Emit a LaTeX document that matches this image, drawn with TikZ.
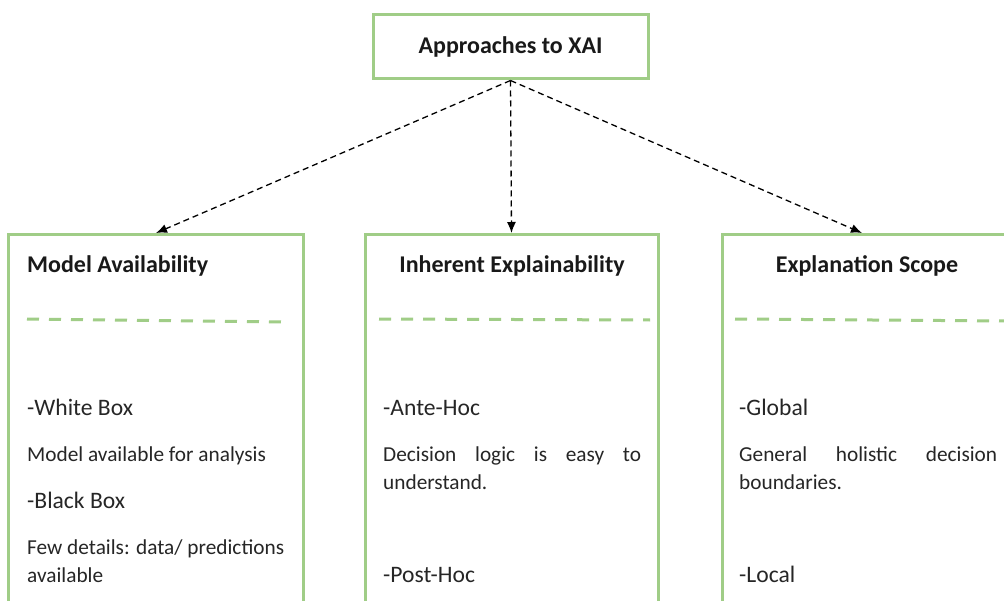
\documentclass[tikz,border=0pt]{standalone}
\usepackage{fontspec}
\setmainfont{Carlito}
\usetikzlibrary{arrows.meta}
\definecolor{boxgreen}{HTML}{A0CD87}
\newcommand{\headfont}{\fontsize{24bp}{28bp}\selectfont\bfseries}
\newcommand{\labelfont}{\fontsize{23.6bp}{28bp}\selectfont}
\newcommand{\bodyfont}{\fontsize{21.3bp}{28bp}\selectfont}
\tikzset{
  panel/.style={draw=boxgreen, line width=3bp, fill=white, inner sep=0pt},
  sepline/.style={draw=boxgreen, line width=3bp, dash pattern=on 12bp off 10bp},
  link/.style={draw=black, line width=1.3bp, dash pattern=on 6bp off 4bp,
    -{Latex[length=11bp,width=9bp]}},
  txt/.style={anchor=base west, inner sep=0pt, text=black!85},
  head/.style={anchor=base, inner sep=0pt, text=black!90, font=\headfont},
}
\begin{document}
\begin{tikzpicture}[x=1bp,y=-1bp]
\useasboundingbox (0,0) rectangle (1004,601);
\clip (0,0) rectangle (1004,601);

% root and the three category panels
\node[panel, minimum width=275bp, minimum height=64bp, font=\headfont, text=black!90]
  (root) at (510.5,47) {Approaches to XAI};
\node[panel, anchor=north, minimum width=294bp, minimum height=420bp] (avail) at (156,233) {};
\node[panel, anchor=north, minimum width=293bp, minimum height=420bp] (inher) at (511.5,233) {};
\node[panel, anchor=north, minimum width=294bp, minimum height=420bp] (scope) at (869,233) {};

% connectors
\draw[link] (root.south) -- (avail.north);
\draw[link] (root.south) -- (inher.north);
\draw[link] (root.south) -- ([xshift=-7bp]scope.north);

% panel headings
\node[head, anchor=base west] (availh) at (27,273) {Model Availability};
\node[head] (inherh) at (512,273) {Inherent Explainability};
\node[head] (scopeh) at (867,273) {Explanation Scope};

% dashed separators
\coordinate (s1a) at (27,319);  \coordinate (s1b) at (287,322);
\coordinate (s2a) at (379,319); \coordinate (s2b) at (650,320);
\coordinate (s3a) at (735,319); \coordinate (s3b) at (1010,321);
\draw[sepline] (s1a) -- (s1b);
\draw[sepline] (s2a) -- (s2b);
\draw[sepline] (s3a) -- (s3b);

% Model Availability
\node[txt, font=\labelfont] (wb) at (27,415) {-White Box};
\node[txt, font=\bodyfont] (wbd) at (27,461) {Model available for analysis};
\node[txt, font=\labelfont] (bb) at (27,508) {-Black Box};
\node[txt, font=\bodyfont] (bbd1) at (27,554) {Few details: data/ predictions};
\node[txt, font=\bodyfont] (bbd2) at (27,582) {available};

% Inherent Explainability
\node[txt, font=\labelfont] (ante) at (383,415) {-Ante-Hoc};
\node[txt, font=\bodyfont] (anted1) at (383,461) {\makebox[258bp][s]{Decision logic is easy to}};
\node[txt, font=\bodyfont] (anted2) at (383,489) {understand.};
\node[txt, font=\labelfont] (post) at (383,582) {-Post-Hoc};

% Explanation Scope
\node[txt, font=\labelfont] (glob) at (739,415) {-Global};
\node[txt, font=\bodyfont] (globd1) at (739,461) {\makebox[258bp][s]{General holistic decision}};
\node[txt, font=\bodyfont] (globd2) at (739,489) {boundaries.};
\node[txt, font=\labelfont] (loc) at (739,582) {-Local};
\end{tikzpicture}
\end{document}
